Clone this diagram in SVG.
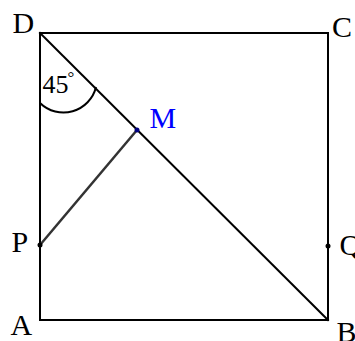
<svg xmlns="http://www.w3.org/2000/svg" width="355" height="341" viewBox="0 0 355 341">
<style>
.ln{stroke:#000;stroke-width:2;fill:none;stroke-linecap:square}
.lbl{font-family:"Liberation Serif","Times New Roman",serif;font-size:30px;fill:#000}
.dot{fill:#000}
</style>
<rect width="355" height="341" fill="#fff"/>
<g id="connectors">
<path class="ln" d="M40,33 H328 V320 H40 Z"/>
<line class="ln" x1="40" y1="33" x2="328" y2="320"/>
<line x1="40" y1="245" x2="137" y2="130" stroke="#333" stroke-width="2.5"/>
<path d="M40,103 A33.5,33.5 0 0 0 96,87" fill="none" stroke="#000" stroke-width="2"/>
</g>
<g id="D"><text class="lbl" x="12.5" y="33">D</text></g>
<g id="C"><text class="lbl" x="332" y="37">C</text></g>
<g id="A"><text class="lbl" x="10.5" y="335">A</text></g>
<g id="B"><text class="lbl" x="336.5" y="342">B</text></g>
<g id="P"><circle class="dot" cx="40" cy="245" r="2.5"/><text class="lbl" x="11.5" y="252">P</text></g>
<g id="Q"><circle class="dot" cx="328" cy="246" r="2.5"/><text class="lbl" x="339.5" y="255">Q</text></g>
<g id="M"><circle cx="137" cy="130" r="2.5" fill="#000080"/><text class="lbl" x="149.5" y="128" fill="#0000ff" style="fill:#0000ff">M</text></g>
<g id="angle"><text class="lbl" x="42.5" y="93" style="font-size:26px">45</text><text class="lbl" x="67.5" y="83" style="font-size:17px">°</text></g>
</svg>
